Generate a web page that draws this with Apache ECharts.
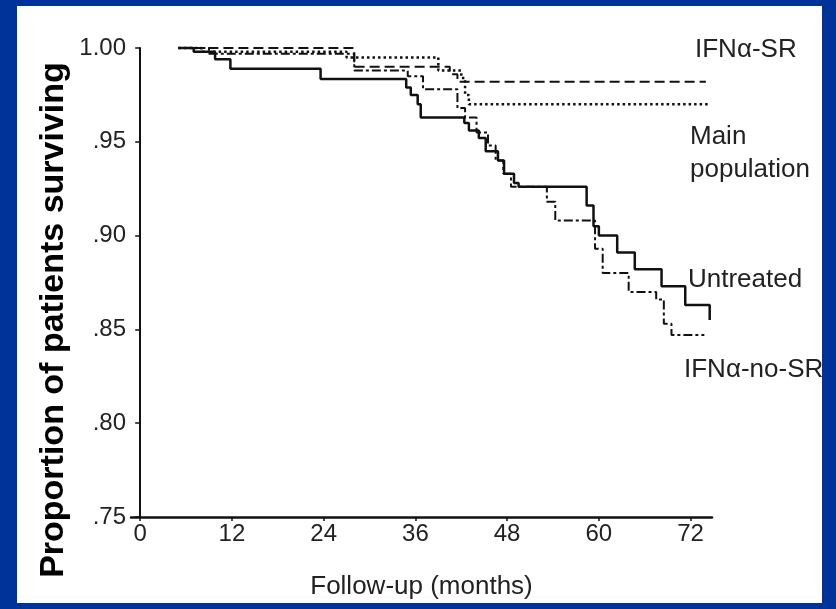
<!DOCTYPE html>
<html>
<head>
<meta charset="utf-8">
<script src="https://cdn.jsdelivr.net/npm/echarts@6/dist/echarts.min.js"></script>
<style>
  html, body { margin: 0; padding: 0; background: #003399; }
  #paper { position: absolute; left: 17px; top: 6px; width: 805px; height: 597px; background: #fff; }
  #main { position: absolute; left: 0; top: 0; width: 836px; height: 609px; }
</style>
</head>
<body>
<div id="paper"></div>
<div id="main"></div>
<script>
// 刻度
const xTicks = [0, 12, 24, 36, 48, 60, 72]
const yMin = 0.75, yMax = 1.0, yStep = 0.05

// 各组生存曲线 [月份, 生存比例]，阶梯在该月下降
const untreated = [[5, 1.0], [7, 0.998], [9.8, 0.994], [11.8, 0.989], [23.6, 0.9835],
  [34.8, 0.979], [35.4, 0.975], [36.3, 0.970], [36.7, 0.963], [42.4, 0.960], [43, 0.956],
  [44.3, 0.952], [45.2, 0.945], [46.8, 0.940], [47.6, 0.933], [48.9, 0.928], [49.5, 0.926],
  [58.4, 0.916], [59.3, 0.905], [60, 0.900], [62.4, 0.891], [64.7, 0.882], [68.2, 0.873],
  [71.3, 0.863], [74.5, 0.855]]
const ifnSR = [[5, 1.0], [28, 0.990], [40.5, 0.986], [41.5, 0.982], [74, 0.982]]
const mainPop = [[5, 1.0], [8, 0.998], [27, 0.995], [39, 0.988], [42, 0.984], [42.5, 0.975],
  [43, 0.970], [74.6, 0.970]]
const ifnNoSR = [[5, 1.0], [9, 0.997], [28, 0.988], [35, 0.985], [37, 0.978], [41.5, 0.968],
  [42.5, 0.963], [44, 0.955], [45.5, 0.948], [46.5, 0.940], [47.5, 0.933], [48.5, 0.926],
  [53.2, 0.918], [54.3, 0.908], [59.5, 0.893], [60.5, 0.880], [63.9, 0.870], [67.5, 0.866],
  [68.5, 0.853], [69.5, 0.847], [73.8, 0.847]]

// 右侧标注
const labels = [
  { text: 'IFNα-SR', x: 695, y: 50 },
  { text: 'Main', x: 690, y: 137 },
  { text: 'population', x: 690, y: 170 },
  { text: 'Untreated', x: 688, y: 280 },
  { text: 'IFNα-no-SR', x: 684, y: 370 }
]

const font = "'Liberation Sans', Arial, sans-serif"
const ink = '#111'

function curve(name, data, type, width) {
  return {
    name: name,
    type: 'line',
    step: 'end',
    data: data,
    symbol: 'none',
    clip: false,
    lineStyle: { color: ink, width: width, type: type }
  }
}

let myChart = echarts.init(document.getElementById('main'))
myChart.setOption({
  animation: false,
  backgroundColor: 'transparent',
  grid: { left: 131, right: 124, top: 48, bottom: 92, outerBoundsMode: 'none' },
  xAxis: {
    type: 'value',
    min: -1.2,
    max: 74.8,
    name: 'Follow-up (months)',
    nameLocation: 'middle',
    nameGap: 57,
    nameTextStyle: { fontFamily: font, fontSize: 26, color: '#222' },
    splitLine: { show: false },
    axisLine: { lineStyle: { color: ink, width: 2.5 } },
    axisTick: { customValues: xTicks, length: 4, lineStyle: { color: ink, width: 1.5 } },
    axisLabel: { customValues: xTicks, fontFamily: font, fontSize: 24, color: '#222', margin: 5 }
  },
  yAxis: {
    type: 'value',
    min: yMin,
    max: yMax,
    interval: yStep,
    splitLine: { show: false },
    axisLine: { show: true, lineStyle: { color: ink, width: 2 } },
    axisTick: { show: true, length: 5, lineStyle: { color: ink, width: 1.5 } },
    axisLabel: {
      fontFamily: font, fontSize: 24, color: '#222', margin: 5,
      formatter: v => v.toFixed(2).replace(/^0/, '')
    }
  },
  graphic: [
    {
      type: 'text',
      x: 54, y: 320,
      rotation: Math.PI / 2,
      style: {
        text: 'Proportion of patients surviving',
        font: 'bold 34px ' + font,
        fill: '#000',
        textAlign: 'center',
        textVerticalAlign: 'middle'
      }
    }
  ].concat(labels.map(l => ({
    type: 'text',
    x: l.x, y: l.y,
    style: { text: l.text, font: '26px ' + font, fill: '#222', textVerticalAlign: 'middle' }
  }))),
  series: [
    curve('Untreated', untreated, 'solid', 2.5),
    curve('IFNα-SR', ifnSR, [10, 5], 2),
    curve('Main population', mainPop, [2.5, 3], 2.5),
    curve('IFNα-no-SR', ifnNoSR, [9, 3, 3, 3], 2)
  ]
})
</script>
</body>
</html>
